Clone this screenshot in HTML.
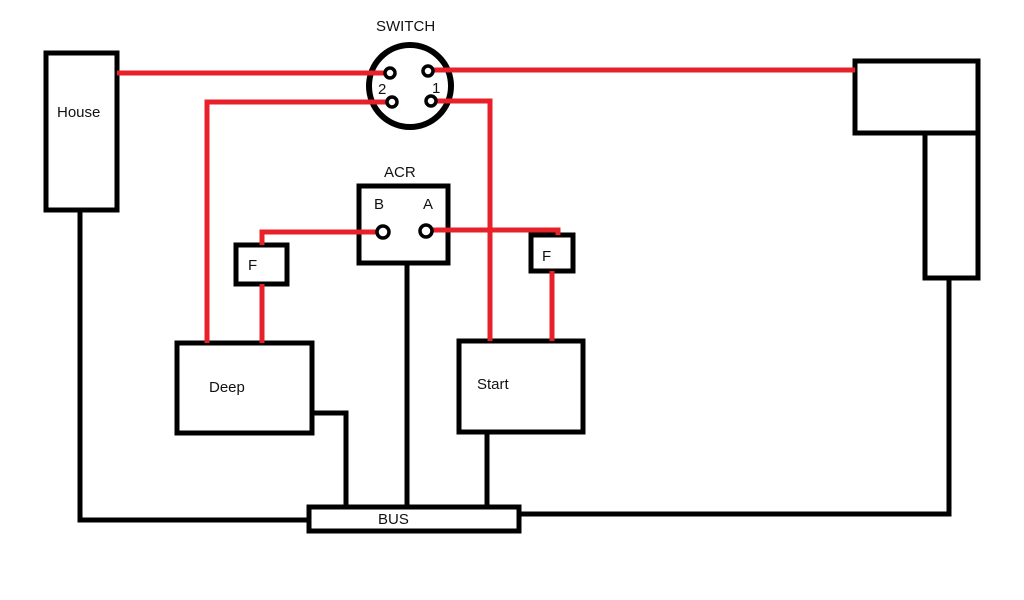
<!DOCTYPE html>
<html><head><style>
html,body{margin:0;padding:0;background:#fff;width:1024px;height:600px;overflow:hidden}
text{font-family:"Liberation Sans",sans-serif;fill:#111}
</style></head><body>
<svg width="1024" height="600" viewBox="0 0 1024 600" xmlns="http://www.w3.org/2000/svg">
<g fill="none" stroke="#000" stroke-width="5">
<rect x="46" y="53" width="71" height="157"/>
<rect x="855" y="61" width="123" height="72"/>
<rect x="925" y="133" width="53" height="145"/>
<circle cx="410" cy="86" r="41" stroke-width="6"/>
<rect x="359" y="186" width="89" height="77"/>
<rect x="236" y="245" width="51" height="39"/>
<rect x="531" y="235" width="42" height="36"/>
<rect x="177" y="343" width="135" height="90"/>
<rect x="459" y="341" width="124" height="91"/>
<rect x="309" y="507" width="210" height="24"/>
<polyline points="80,210 80,520 309,520"/>
<polyline points="519,514 949,514 949,278"/>
<polyline points="312,413 346,413 346,507"/>
<line x1="407" y1="263" x2="407" y2="507"/>
<line x1="487" y1="432" x2="487" y2="507"/>
</g>
<g fill="none" stroke="#e8202a" stroke-width="5">
<line x1="117" y1="73" x2="386" y2="73"/>
<line x1="432" y1="70" x2="855" y2="70"/>
<polyline points="388,102 207,102 207,343"/>
<polyline points="435,101 490,101 490,341"/>
<polyline points="380,232 262,232 262,245"/>
<line x1="262" y1="284" x2="262" y2="343"/>
<polyline points="430,230 558,230 558,235"/>
<line x1="552" y1="271" x2="552" y2="341"/>
</g>
<g fill="#fff" stroke="#000" stroke-width="3.5">
<circle cx="390" cy="73" r="5"/>
<circle cx="428" cy="71" r="5"/>
<circle cx="392" cy="102" r="5"/>
<circle cx="431" cy="101" r="5"/>
<circle cx="383" cy="232" r="6"/>
<circle cx="426" cy="231" r="6"/>
</g>
<g font-size="15">
<text x="376" y="31">SWITCH</text>
<text x="378" y="94">2</text>
<text x="432" y="93">1</text>
<text x="384" y="177">ACR</text>
<text x="374" y="209">B</text>
<text x="423" y="209">A</text>
<text x="57" y="117">House</text>
<text x="248" y="270">F</text>
<text x="542" y="261">F</text>
<text x="209" y="392">Deep</text>
<text x="477" y="389">Start</text>
<text x="378" y="524">BUS</text>
</g>
</svg>
</body></html>
